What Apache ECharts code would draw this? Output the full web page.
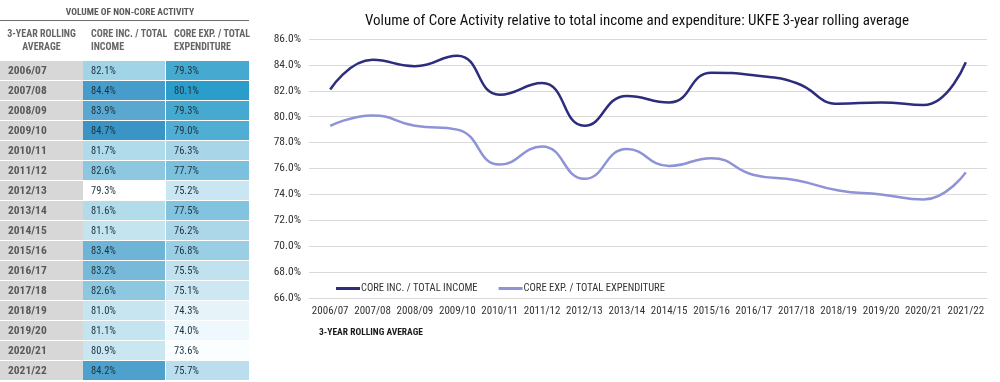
<!DOCTYPE html>
<html>
<head>
<meta charset="utf-8">
<script src="https://cdn.jsdelivr.net/npm/echarts@6/dist/echarts.min.js"></script>
<style>html,body{margin:0;padding:0;background:#fff}#c{width:1000px;height:382px}</style>
</head>
<body>
<div id="c"></div>
<script>
const years = ['2006/07','2007/08','2008/09','2009/10','2010/11','2011/12','2012/13','2013/14','2014/15','2015/16','2016/17','2017/18','2018/19','2019/20','2020/21','2021/22'];
const coreIncome = [82.1, 84.4, 83.9, 84.7, 81.7, 82.6, 79.3, 81.6, 81.1, 83.4, 83.2, 82.6, 81.0, 81.1, 80.9, 84.2];
const coreExpenditure = [79.3, 80.1, 79.3, 79.0, 76.3, 77.7, 75.2, 77.5, 76.2, 76.8, 75.5, 75.1, 74.3, 74.0, 73.6, 75.7];
const tableHeaders = [['3-YEAR ROLLING','AVERAGE'], ['CORE INC. / TOTAL','INCOME'], ['CORE EXP. / TOTAL','EXPENDITURE']];
const seriesNames = ['CORE INC. / TOTAL INCOME', 'CORE EXP. / TOTAL EXPENDITURE'];
const chartTitle = 'Volume of Core Activity relative to total income and expenditure: UKFE 3-year rolling average';
const tableTitle = 'VOLUME OF NON-CORE ACTIVITY';
const xAxisTitle = '3-YEAR ROLLING AVERAGE';

const NARROW = "'Roboto Condensed', 'DejaVu Sans Condensed', sans-serif";

const chart = echarts.init(document.getElementById('c'), null, {renderer: 'canvas'});

function renderCell(params, api) {
  const col = api.value(0), row = api.value(1), v = api.value(2);
  const c = api.coord([col, row]);
  const s = api.size([1, 1]);
  const x = c[0] - s[0] / 2, y = c[1] - s[1] / 2;
  const isLabel = col === 0;
  return {
    type: 'group',
    children: [
      {type: 'rect', shape: {x: x, y: y, width: s[0] - (col === 1 ? 1 : 0), height: s[1] - 1},
       style: {fill: isLabel ? '#d7d7d7' : api.visual('color')}},
      {type: 'text', style: {x: x + 8, y: y + (s[1] - 1) / 2 + 0.5, text: isLabel ? years[row] : v.toFixed(1) + '%',
        verticalAlign: 'middle', align: 'left',
        font: (isLabel ? 'bold 11.5px ' : '10.5px ') + NARROW,
        fill: isLabel ? '#595959' : '#1d3440'}}
    ]
  };
}

const option = {
  backgroundColor: '#ffffff',
  animation: false,
  title: [
    {text: chartTitle, left: 632, textAlign: 'center', top: 9,
     textStyle: {fontFamily: NARROW, fontSize: 15, fontWeight: 'normal', color: '#111111'}},
    {text: xAxisTitle, left: 314, top: 323,
     textStyle: {fontFamily: NARROW, fontSize: 9.5, fontWeight: 'bold', color: '#1a1a1a'}},
    {text: tableTitle, left: 125, textAlign: 'center', top: 3,
     textStyle: {fontFamily: NARROW, fontSize: 9.5, fontWeight: 'bold', color: '#595959'}}
  ],
  graphic: [
    {type: 'line', shape: {x1: 0, y1: 20.5, x2: 249, y2: 20.5}, style: {stroke: '#6e6e6e', lineWidth: 1.2}}
  ],
  legend: {
    left: 331, top: 278, itemGap: 21, itemWidth: 24, itemHeight: 3, icon: 'rect',
    data: seriesNames,
    textStyle: {fontFamily: NARROW, fontSize: 10.5, color: '#333333', padding: [0, 0, 0, -4]}
  },
  visualMap: [
    {show: false, seriesIndex: 3, dimension: 2, min: 79.3, max: 84.7,
     inRange: {color: ['#ffffff', '#a6d6e8', '#3a95c6']}},
    {show: false, seriesIndex: 4, dimension: 2, min: 73.6, max: 80.1,
     inRange: {color: ['#fbfeff', '#98cde4', '#2b9dca']}}
  ],
  grid: [
    {left: 309, right: 13, top: 39, bottom: 84},
    {left: 0, width: 249, top: 61, height: 320}
  ],
  xAxis: [
    {type: 'category', gridIndex: 0, data: years, boundaryGap: true,
     axisLine: {show: true, lineStyle: {color: '#d9d9d9'}}, axisTick: {show: false},
     axisLabel: {fontFamily: NARROW, fontSize: 11, color: '#333333', margin: 8, interval: 0}},
    {type: 'category', gridIndex: 1, data: tableHeaders.map(function (h) { return h.join('\n'); }),
     position: 'top', axisLine: {show: false}, axisTick: {show: false},
     axisLabel: {
       interval: 0, margin: 7, align: 'center',
       formatter: function (val, idx) {
         const key = idx === 0 ? 'c' : 'l';
         return tableHeaders[idx].map(function (t) { return '{' + key + '|' + t + '}'; }).join('\n');
       },
       rich: {
         c: {width: 76, align: 'center', fontFamily: NARROW, fontSize: 10, fontWeight: 'bold', color: '#666666', lineHeight: 13},
         l: {width: 67, align: 'left', fontFamily: NARROW, fontSize: 10, fontWeight: 'bold', color: '#666666', lineHeight: 13}
       }
     }}
  ],
  yAxis: [
    {type: 'value', gridIndex: 0, min: 66, max: 86, interval: 2,
     axisLine: {show: false}, axisTick: {show: false},
     splitLine: {lineStyle: {color: '#d9d9d9', width: 1}},
     axisLabel: {fontFamily: NARROW, fontSize: 11.5, color: '#333333', margin: 8,
       formatter: function (v) { return v.toFixed(1) + '%'; }}},
    {type: 'category', gridIndex: 1, data: years, inverse: true, show: false}
  ],
  series: [
    {name: seriesNames[0], type: 'line', xAxisIndex: 0, yAxisIndex: 0, data: coreIncome,
     smooth: 0.5, symbol: 'none', lineStyle: {color: '#2c2d7d', width: 2.5}, itemStyle: {color: '#2c2d7d'}},
    {name: seriesNames[1], type: 'line', xAxisIndex: 0, yAxisIndex: 0, data: coreExpenditure,
     smooth: 0.5, symbol: 'none', lineStyle: {color: '#8d93d6', width: 2.5}, itemStyle: {color: '#8d93d6'}},
    {type: 'custom', xAxisIndex: 1, yAxisIndex: 1, renderItem: renderCell,
     data: years.map(function (y, i) { return [0, i, 0]; })},
    {type: 'custom', xAxisIndex: 1, yAxisIndex: 1, renderItem: renderCell,
     data: coreIncome.map(function (v, i) { return [1, i, v]; })},
    {type: 'custom', xAxisIndex: 1, yAxisIndex: 1, renderItem: renderCell,
     data: coreExpenditure.map(function (v, i) { return [2, i, v]; })}
  ]
};
chart.setOption(option);
</script>
</body>
</html>
